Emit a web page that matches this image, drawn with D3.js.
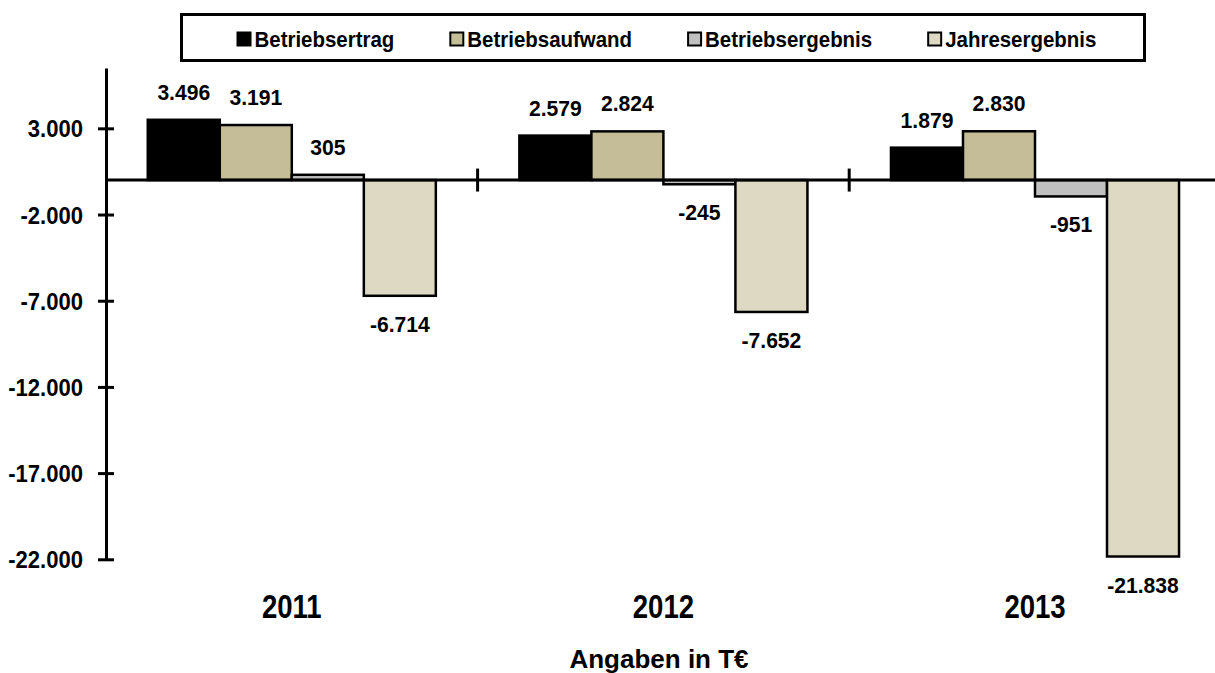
<!DOCTYPE html>
<html><head><meta charset="utf-8">
<script src="https://cdn.jsdelivr.net/npm/d3@7"></script>
<style>
body{margin:0;background:#fff}
svg{display:block}
text{font-family:"Liberation Sans",Arial,sans-serif;font-weight:bold;fill:#000}
</style>
</head><body>
<svg id="c" width="1215" height="673"></svg>
<script>
const years = ["2011", "2012", "2013"];
const seriesNames = ["Betriebsertrag", "Betriebsaufwand", "Betriebsergebnis", "Jahresergebnis"];
const betriebsertrag = [3496, 2579, 1879];
const betriebsaufwand = [3191, 2824, 2830];
const betriebsergebnis = [305, -245, -951];
const jahresergebnis = [-6714, -7652, -21838];
const yTicks = [3000, -2000, -7000, -12000, -17000, -22000];
const axisTitle = "Angaben in T€";
const colors = ["#000000", "#c4bd97", "#c0c0c0", "#ddd9c3"];

const seriesValues = [betriebsertrag, betriebsaufwand, betriebsergebnis, jahresergebnis];
const rows = [];
years.forEach((yr, i) => seriesNames.forEach((s, j) => rows.push({year: yr, series: s, idx: j, value: seriesValues[j][i]})));

const de = d3.formatLocale({decimal: ",", thousands: ".", grouping: [3], currency: ["", " €"], minus: "-"});
const fmt = de.format(",d");

const svg = d3.select("#c");
const axisX = 106;
const catStep = 371.6;

const x0 = d3.scaleBand().domain(years).range([axisX, axisX + catStep * years.length]).padding(0);
const x1 = d3.scaleBand().domain(seriesNames).range([0, x0.bandwidth()]).paddingInner(0).paddingOuter(0.58);
const y = d3.scaleLinear().domain([-22000, 6500]).range([559.3, 68]);

// bars
svg.append("g").selectAll("rect").data(rows).join("rect")
  .attr("x", d => x0(d.year) + x1(d.series))
  .attr("y", d => Math.min(y(d.value), y(0)))
  .attr("width", x1.bandwidth())
  .attr("height", d => Math.abs(y(d.value) - y(0)))
  .attr("fill", d => colors[d.idx])
  .attr("stroke", "#000")
  .attr("stroke-width", 2.5);

// zero line
const y0 = y(0);
svg.append("line").attr("x1", axisX).attr("x2", 1215).attr("y1", y0).attr("y2", y0)
  .attr("stroke", "#000").attr("stroke-width", 3);
// category separators
svg.append("g").selectAll("line").data(years.slice(1)).join("line")
  .attr("x1", d => x0(d)).attr("x2", d => x0(d))
  .attr("y1", y0 - 11.5).attr("y2", y0 + 11.5)
  .attr("stroke", "#000").attr("stroke-width", 3);

// y axis
const gy = svg.append("g").attr("transform", `translate(${axisX},0)`)
  .call(d3.axisLeft(y).tickValues(yTicks).tickFormat(fmt).tickSizeInner(8).tickSizeOuter(0).tickPadding(15));
gy.select(".domain").attr("stroke", "#000").attr("stroke-width", 3);
gy.selectAll(".tick line").attr("x1", -8).attr("x2", 8).attr("stroke", "#000").attr("stroke-width", 3);
gy.selectAll(".tick text")
  .attr("font-size", 24).attr("font-family", null).attr("fill", "#000")
  .attr("x", null).attr("dy", null)
  .attr("transform", "translate(-23,8.5) scale(0.92,1)");

// data labels
svg.append("g").selectAll("text").data(rows).join("text")
  .attr("transform", d => {
    const cx = x0(d.year) + x1(d.series) + x1.bandwidth() / 2;
    const cy = d.value >= 0 ? y(d.value) - 20 : y(d.value) + 36;
    return `translate(${cx},${cy}) scale(0.96,1)`;
  })
  .attr("text-anchor", "middle")
  .attr("font-size", 22)
  .text(d => fmt(d.value));

// category labels
svg.append("g").selectAll("text").data(years).join("text")
  .attr("transform", d => `translate(${x0(d) + x0.bandwidth() / 2},618) scale(0.81,1)`)
  .attr("text-anchor", "middle")
  .attr("font-size", 34)
  .text(d => d);

// axis title
svg.append("text").attr("x", 659).attr("y", 668).attr("text-anchor", "middle")
  .attr("font-size", 26).text(axisTitle);

// legend
const lg = svg.append("g");
lg.append("rect").attr("x", 181.5).attr("y", 14.5).attr("width", 963).attr("height", 46)
  .attr("fill", "#fff").attr("stroke", "#000").attr("stroke-width", 3);
let lx = 237.5;
const lsx = 0.93;
seriesNames.forEach((s, j) => {
  lg.append("rect").attr("x", lx).attr("y", 32.5).attr("width", 13).attr("height", 13)
    .attr("fill", colors[j]).attr("stroke", "#000").attr("stroke-width", 2);
  const t = lg.append("text").attr("transform", `translate(${lx + 17},47) scale(${lsx},1)`)
    .attr("font-size", 22).text(s);
  lx += 17 + t.node().getComputedTextLength() * lsx + 56;
});
</script>
</body></html>
